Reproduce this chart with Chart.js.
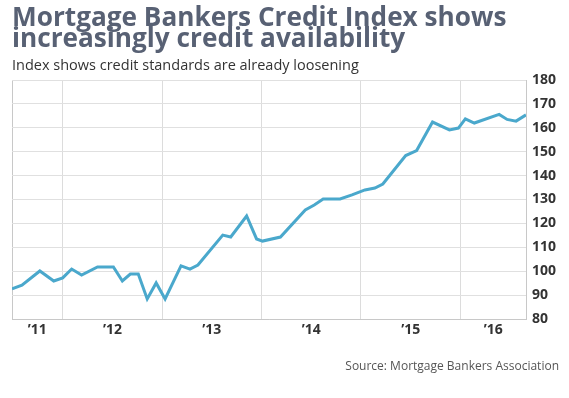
<!DOCTYPE html>
<html>
<head>
<meta charset="utf-8">
<script src="https://cdn.jsdelivr.net/npm/chart.js@4/dist/chart.umd.min.js"></script>
<style>
  body { margin: 0; background: #fff; }
  #wrap { position: relative; width: 569px; height: 398px; overflow: hidden; }
  #chart { position: absolute; left: 0; top: 0; }
  .title { position: absolute; left: 12px; top: 6px; font-family: "Open Sans", sans-serif; font-weight: bold;
           font-size: 26.2px; line-height: 21px; color: #586174; white-space: nowrap; }
  .sub { position: absolute; left: 12px; top: 57px; font-family: "Open Sans", sans-serif; font-size: 14.5px;
         line-height: 16px; color: #333; white-space: nowrap; }
  .source { position: absolute; right: 10px; top: 359px; font-family: "Open Sans", sans-serif; font-size: 12px;
            line-height: 14px; color: #555; white-space: nowrap; }
</style>
</head>
<body>
<div id="wrap">
  <canvas id="chart" width="569" height="398"></canvas>
  <div class="title">Mortgage Bankers Credit Index shows<br>increasingly credit availability</div>
  <div class="sub">Index shows credit standards are already loosening</div>
  <div class="source">Source: Mortgage Bankers Association</div>
</div>
<script>
// dates as decimal years, index values
var dates = [2011.49, 2011.59, 2011.77, 2011.91, 2012.00, 2012.09, 2012.19, 2012.35, 2012.51, 2012.60,
             2012.68, 2012.76, 2012.85, 2012.94, 2013.03, 2013.19, 2013.28, 2013.36, 2013.61, 2013.69,
             2013.85, 2013.95, 2014.01, 2014.19, 2014.44, 2014.53, 2014.62, 2014.79, 2014.91, 2015.04,
             2015.14, 2015.22, 2015.45, 2015.56, 2015.72, 2015.89, 2015.98, 2016.05, 2016.14, 2016.39,
             2016.47, 2016.56, 2016.66];
var creditIndex = [92.6, 94.2, 100.1, 95.9, 97.2, 100.9, 98.4, 101.8, 101.8, 95.9,
                   98.8, 98.8, 88.4, 95.1, 88.4, 102.2, 100.9, 102.6, 115.1, 114.3,
                   123.1, 113.5, 112.6, 114.3, 125.6, 127.7, 130.2, 130.2, 131.9, 134.0,
                   134.8, 136.5, 148.4, 150.5, 162.4, 159.1, 159.9, 163.7, 162.0, 165.6,
                   163.5, 162.8, 165.4];

var yearStarts = [2012, 2013, 2014, 2015, 2016];
var yearLabels = ["\u201911", "\u201912", "\u201913", "\u201914", "\u201915", "\u201916"];
var xMin = 2011.49, xMax = 2016.66;
var yMin = 80, yMax = 180, yStep = 10;

// labels sit in the middle of the visible part of each year
var labelPos = [(xMin + 2012) / 2, 2012.5, 2013.5, 2014.5, 2015.5, (2016 + xMax) / 2];

var points = dates.map(function (d, i) { return { x: d, y: creditIndex[i] }; });

var ctx = document.getElementById('chart').getContext('2d');
var chart = new Chart(ctx, {
    type: 'line',
    data: {
        datasets: [{
            data: points,
            borderColor: '#4aa8cc',
            borderWidth: 3,
            pointRadius: 0,
            tension: 0,
            fill: false
        }]
    },
    options: {
        responsive: false,
        animation: false,
        devicePixelRatio: 1,
        layout: { padding: { left: 12, top: 80, right: 0, bottom: 0 } },
        plugins: { legend: { display: false }, tooltip: { enabled: false } },
        scales: {
            x: {
                type: 'linear',
                position: 'bottom',
                min: xMin,
                max: xMax,
                afterBuildTicks: function (scale) {
                    var t = [{ value: xMin }];
                    yearStarts.forEach(function (v) { t.push({ value: v }); });
                    labelPos.forEach(function (v) { t.push({ value: v }); });
                    t.sort(function (a, b) { return a.value - b.value; });
                    scale.ticks = t;
                },
                afterFit: function (scale) { scale.height = 79; },
                grid: {
                    drawTicks: false,
                    color: function (c) {
                        var v = c.tick ? c.tick.value : null;
                        if (v === xMin) return '#c8c8c8';
                        if (yearStarts.indexOf(v) >= 0) return '#dcdcdc';
                        return 'rgba(0,0,0,0)';
                    }
                },
                border: { color: '#c8c8c8' },
                ticks: {
                    autoSkip: false,
                    maxRotation: 0,
                    padding: 3,
                    color: '#333',
                    font: { family: 'Open Sans', weight: 'bold', size: 14 },
                    callback: function (v) {
                        var i = labelPos.indexOf(v);
                        return i >= 0 ? yearLabels[i] : '';
                    }
                }
            },
            y: {
                position: 'right',
                min: yMin,
                max: yMax,
                afterFit: function (scale) { scale.width = 43; },
                grid: { drawTicks: false, color: '#e0e0e0' },
                border: { color: '#c8c8c8' },
                ticks: {
                    stepSize: yStep,
                    padding: 6,
                    color: '#333',
                    font: { family: 'Open Sans', weight: 'bold', size: 14 }
                }
            }
        }
    }
});
</script>
</body>
</html>
